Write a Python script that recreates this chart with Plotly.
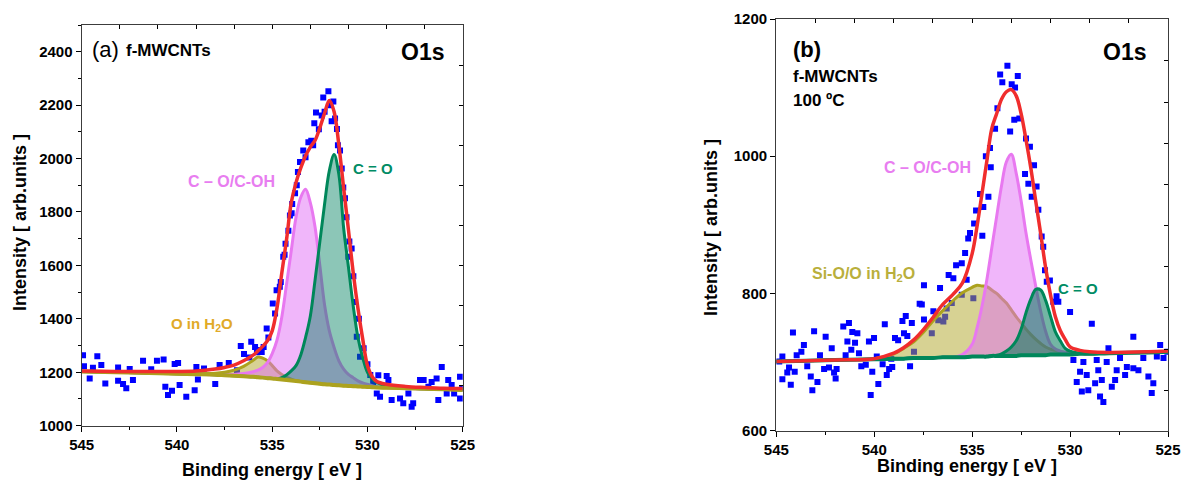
import plotly.graph_objects as go

# ---------------- Panel (a): f-MWCNTs ----------------
a_pts_x = [544.93, 544.88, 544.58, 544.41, 544.18, 543.97, 543.76, 543.09, 543.09, 542.83, 542.66, 542.48, 542.31,
           541.78, 541.35, 541.05, 540.70, 540.61, 540.47, 540.26, 540.12, 539.94, 539.86, 539.51, 539.07, 538.98,
           538.90, 538.58, 537.99, 537.76, 537.28, 536.85, 536.65, 536.48, 536.10, 535.90, 535.70, 535.55, 535.45,
           535.29, 534.97, 534.77, 534.55, 534.42, 534.30, 534.07, 533.98, 533.80, 533.71, 533.54, 533.37, 533.10,
           532.95, 532.79, 532.70, 532.40, 532.32, 532.05, 531.88, 531.79, 531.60, 531.44, 531.35, 531.27, 531.18,
           531.00, 530.83, 530.74, 530.65, 530.56, 530.39, 529.43, 528.99, 528.90, 529.70, 529.51, 529.34, 528.73,
           528.29, 528.12, 527.85, 527.68, 527.60, 527.24, 527.05, 526.80, 526.63, 526.37, 526.28, 526.10, 525.84,
           525.76, 525.58, 525.45, 525.14, 525.14, 525.03,
           536.20, 535.80, 535.20, 534.85, 534.60, 534.35, 534.15, 533.95, 533.65, 533.25, 532.85, 532.55, 532.25,
           531.95, 531.70, 531.55, 531.10, 530.95, 530.45, 530.20, 530.00, 529.85]
a_pts_y = [1264, 1223, 1177, 1217, 1260, 1227, 1158, 1218, 1168, 1156, 1140, 1212, 1171,
           1243, 1211, 1243, 1248, 1146, 1115, 1131, 1231, 1235, 1152, 1108, 1133, 1220,
           1173, 1214, 1156, 1227, 1235, 1208, 1298, 1268, 1314, 1295, 1283, 1276, 1295,
           1364, 1457, 1507, 1538, 1632, 1681, 1787, 1795, 1870, 1900, 1987, 2030, 2061,
           2067, 2132, 2172, 2161, 2229, 2252, 2140, 2214, 2111, 2030, 1963, 1892, 1851,
           1632, 1663, 1559, 1463, 1333, 1258, 1189, 1186, 1171, 1164, 1121, 1108, 1096,
           1102, 1084, 1121, 1071, 1084, 1171, 1171, 1146, 1164, 1177, 1096, 1220, 1121,
           1171, 1152, 1121, 1183, 1102, 1140,
           1255, 1275, 1330, 1420, 1520, 1640, 1730, 1830, 1950, 2005, 2050, 2110, 2175,
           2200, 2150, 2050, 1780, 1690, 1400, 1290, 1230, 1190]

a_fit_x = [545, 542, 539, 538, 537.5, 537, 536.5, 536, 535.75, 535.5, 535.25, 535, 534.75, 534.5, 534.25, 534,
           533.75, 533.5, 533.25, 533, 532.75, 532.5, 532.25, 532, 531.75, 531.5, 531.25, 531, 530.75, 530.5,
           530.25, 530, 529.75, 529.5, 529, 528, 527, 526, 525]
a_bg = [1203, 1198, 1193, 1191, 1189, 1187, 1185, 1183, 1181, 1180, 1178, 1177, 1175, 1173, 1171, 1169,
        1167, 1165, 1163, 1161, 1159, 1157, 1155, 1154, 1152, 1151, 1150, 1149, 1148, 1147,
        1146, 1145, 1144, 1143, 1142, 1140, 1138, 1136, 1134]
a_coh = [1203, 1198, 1193, 1191, 1190, 1192, 1195, 1202, 1208, 1218, 1236, 1270, 1320, 1405, 1528, 1655,
         1780, 1855, 1885, 1835, 1744, 1600, 1452, 1355, 1293, 1243, 1212, 1192, 1180, 1168,
         1160, 1155, 1150, 1146, 1143, 1140, 1138, 1136, 1134]
a_co = [1203, 1198, 1193, 1191, 1189, 1187, 1185, 1183, 1181, 1180, 1178, 1177, 1176, 1180, 1190, 1205,
        1225, 1265, 1330, 1410, 1545, 1688, 1830, 1955, 2015, 1940, 1740, 1595, 1450, 1330,
        1255, 1200, 1175, 1162, 1148, 1141, 1138, 1136, 1134]
a_h2o = [1203, 1198, 1194, 1196, 1200, 1208, 1222, 1245, 1257, 1253, 1243, 1225, 1205, 1192, 1182, 1174,
         1168, 1165, 1163, 1161, 1159, 1157, 1155, 1154, 1152, 1151, 1150, 1149, 1148, 1147,
         1146, 1145, 1144, 1143, 1142, 1140, 1138, 1136, 1134]
a_env = [1205, 1203, 1205, 1212, 1218, 1227, 1243, 1264, 1280, 1297, 1318, 1355, 1440, 1570, 1695, 1835,
         1910, 1965, 2010, 2043, 2068, 2115, 2170, 2217, 2175, 2050, 1890, 1735, 1575, 1440,
         1325, 1225, 1183, 1165, 1155, 1147, 1143, 1140, 1139]

# ---------------- Panel (b): f-MWCNTs 100 ºC ----------------
b_pts_x = [544.85, 544.69, 544.35, 544.44, 544.69, 544.26, 544.15, 544.06, 543.96, 543.72, 543.59, 543.42, 543.24,
           543.16, 543.07, 542.90, 542.77, 542.56, 542.48, 542.31, 542.17, 542.05, 541.97, 541.92, 541.58, 541.29,
           541.37, 541.12, 540.86, 541.17, 540.98, 541.46, 540.78, 540.66, 540.43, 540.27, 540.01, 540.10, 540.18,
           539.79, 539.57, 539.36, 539.24, 539.08, 539.46, 539.87, 538.94, 538.78, 538.56, 538.39, 538.48, 538.31,
           538.08, 538.17, 537.97, 539.13, 537.68,
           533.20, 533.57, 532.67, 533.46, 532.98, 532.81, 533.71, 532.85, 532.59, 533.06, 533.83, 532.25, 534.09,
           534.30, 534.05, 532.30, 532.13, 534.60, 534.17, 534.43, 534.80, 534.90, 534.48, 535.11, 535.20, 535.36,
           535.82, 535.53, 536.20, 535.96, 535.28, 537.46, 536.64, 535.53, 534.94, 536.04, 537.57, 536.98, 536.30,
           536.38, 536.73, 537.46, 536.47, 537.06,
           532.05, 531.96, 531.84, 531.71, 531.62, 531.45, 531.37, 531.28, 531.19, 531.03, 530.86, 530.69, 530.60,
           530.00, 528.89, 526.77, 525.40, 528.04, 529.83, 529.32, 528.64, 528.13, 527.45, 526.26, 525.57, 525.23,
           529.49, 528.56, 527.62, 527.10, 526.77, 526.51, 529.15, 528.38, 527.19, 527.70, 526.00, 529.66, 525.75,
           528.72, 527.87, 529.40, 529.07, 525.83, 528.47, 528.30, 525.03]
b_pts_y = [701, 708, 692, 685, 675, 667, 743, 686, 710, 715, 725, 694, 679,
           659, 745, 671, 710, 690, 737, 692, 720, 685, 676, 690, 752, 757,
           730, 744, 742, 718, 728, 710, 713, 694, 696, 730, 735, 686, 652,
           668, 697, 681, 690, 693, 755, 708, 735, 732, 760, 767, 742, 738,
           757, 694, 715, 705, 785,
           1132, 1119, 1117, 1108, 1105, 1100, 1070, 1053, 1055, 1036, 1040, 1026, 1012,
           1000, 984, 974, 960, 945, 941, 926, 921, 902, 884, 888, 880, 859,
           841, 844, 827, 822, 820, 812, 808, 798, 793, 786, 784, 774, 778,
           766, 761, 762, 759, 742,
           1014, 941, 987, 956, 922, 883, 868, 834, 817, 819, 788, 796, 788,
           773, 756, 737, 725, 720, 703, 700, 703, 700, 706, 706, 708, 706,
           686, 688, 688, 693, 691, 688, 681, 674, 681, 674, 679, 671, 669,
           669, 664, 657, 659, 655, 650, 642, 715]

b_fit_x = [545, 542, 540, 539, 538.5, 538, 537.5, 537, 536.5, 536, 535.5, 535, 534.75, 534.5, 534.25, 534,
           533.75, 533.5, 533.25, 533, 532.75, 532.5, 532.25, 532, 531.75, 531.5, 531.25, 531, 530.75, 530.5,
           530.25, 530, 529.5, 529, 528, 526, 525]
b_bg = [701, 703, 704, 705, 705, 706, 706, 706, 707, 707, 707, 708, 708, 708, 708, 709,
        709, 709, 709, 709, 709, 710, 710, 710, 710, 710, 710, 711, 711, 711,
        711, 711, 712, 712, 713, 714, 715]
b_coh = [701, 703, 704, 705, 705, 706, 706, 706, 707, 707, 711, 726, 750, 781, 820, 866,
         912, 957, 992, 1003, 975, 935, 888, 848, 810, 774, 745, 726, 719, 716,
         714, 712, 712, 712, 713, 714, 715]
b_sio = [701, 703, 705, 712, 720, 729, 743, 760, 775, 789, 801, 809, 812, 811, 810, 805,
         800, 793, 786, 776, 766, 757, 748, 740, 733, 727, 722, 719, 717, 715,
         714, 714, 713, 712, 713, 714, 715]
b_co = [701, 703, 704, 705, 705, 706, 706, 706, 707, 707, 707, 708, 708, 708, 708, 709,
        710, 712, 716, 722, 731, 748, 772, 792, 806, 805, 790, 767, 744, 731,
        720, 716, 713, 712, 713, 714, 715]
b_env = [701, 703, 705, 713, 721, 732, 747, 765, 784, 798, 815, 858, 898, 945, 993, 1040,
         1062, 1083, 1094, 1097, 1088, 1062, 1024, 982, 934, 887, 838, 798, 766, 746,
         733, 722, 717, 715, 714, 715, 716]

# tick labels / text
x_tick_vals = [545, 540, 535, 530, 525]
a_y_tick_vals = [1000, 1200, 1400, 1600, 1800, 2000, 2200, 2400]
b_y_tick_vals = [600, 800, 1000, 1200]

FONT = "Liberation Sans"
BLUE = "rgb(0,0,255)"
RED = "rgb(240,45,45)"
PINK_L = "rgb(232,120,240)"
PINK_F = "rgba(225,110,245,0.5)"
GREEN_L = "rgb(0,135,90)"
GREEN_F = "rgba(0,128,96,0.45)"
OLIVE_L = "rgb(172,162,30)"
OLIVE_F = "rgba(175,165,40,0.5)"

fig = go.Figure()


def add_panel(xa, ya, px, py, fx, bg, comps, env, base_color):
    fig.add_trace(go.Scatter(x=px, y=py, mode="markers", xaxis=xa, yaxis=ya,
                             marker=dict(symbol="square", size=6, color=BLUE, line=dict(width=0)),
                             showlegend=False, hoverinfo="skip"))
    for vals, lc, fc in comps:
        fig.add_trace(go.Scatter(x=fx, y=bg, mode="lines", xaxis=xa, yaxis=ya,
                                 line=dict(width=0, color="rgba(0,0,0,0)", shape="spline"),
                                 showlegend=False, hoverinfo="skip"))
        fig.add_trace(go.Scatter(x=fx, y=vals, mode="lines", xaxis=xa, yaxis=ya, fill="tonexty",
                                 fillcolor=fc, line=dict(width=3, color=lc, shape="spline"),
                                 showlegend=False, hoverinfo="skip"))
    fig.add_trace(go.Scatter(x=fx, y=bg, mode="lines", xaxis=xa, yaxis=ya,
                             line=dict(width=4, color=base_color, shape="spline"),
                             showlegend=False, hoverinfo="skip"))
    fig.add_trace(go.Scatter(x=fx, y=env, mode="lines", xaxis=xa, yaxis=ya,
                             line=dict(width=3.5, color=RED, shape="spline"),
                             showlegend=False, hoverinfo="skip"))


add_panel("x", "y", a_pts_x, a_pts_y, a_fit_x, a_bg,
          [(a_h2o, OLIVE_L, OLIVE_F), (a_coh, PINK_L, PINK_F), (a_co, GREEN_L, GREEN_F)],
          a_env, OLIVE_L)
add_panel("x2", "y2", b_pts_x, b_pts_y, b_fit_x, b_bg,
          [(b_sio, OLIVE_L, OLIVE_F), (b_coh, PINK_L, PINK_F), (b_co, GREEN_L, "rgba(0,120,90,0.55)")],
          b_env, GREEN_L)

# invisible traces for mirror tick axes
fig.add_trace(go.Scatter(x=[535], y=[1500], xaxis="x3", yaxis="y3", mode="markers",
                         marker=dict(opacity=0), showlegend=False, hoverinfo="skip"))
fig.add_trace(go.Scatter(x=[535], y=[900], xaxis="x4", yaxis="y4", mode="markers",
                         marker=dict(opacity=0), showlegend=False, hoverinfo="skip"))

W, H = 1182, 482


def fx_(px):
    return px / W


def fy_(py):
    return 1 - py / H


a_dom_x = [fx_(81.7), fx_(462.7)]
a_dom_y = [fy_(425.7), fy_(25)]
b_dom_x = [fx_(776.3), fx_(1168)]
b_dom_y = [fy_(430.7), fy_(19)]

tickfont = dict(family=FONT, size=15, color="black", weight="bold")
axcommon = dict(showline=True, linecolor="rgb(60,60,60)", linewidth=1.3, showgrid=False, zeroline=False,
                ticks="outside", ticklen=5, tickwidth=1.2, tickcolor="black", tickfont=tickfont,
                automargin=False)
mirrorcommon = dict(ticks="inside", ticklen=4, tickcolor="black", showticklabels=False, showline=True,
                    linecolor="rgb(60,60,60)", linewidth=1.3, showgrid=False, zeroline=False,
                    automargin=False)

fig.update_layout(
    template="none",
    width=W, height=H, margin=dict(l=0, r=0, t=0, b=0, pad=0),
    paper_bgcolor="white", plot_bgcolor="white", showlegend=False,
    xaxis=dict(domain=a_dom_x, anchor="y", range=[545, 525], tickvals=x_tick_vals,
               minor=dict(dtick=2.5, ticklen=3, ticks="outside", tickcolor="black"), **axcommon),
    yaxis=dict(domain=a_dom_y, anchor="x", range=[1000, 2500], tickvals=a_y_tick_vals,
               minor=dict(dtick=100, ticklen=3, ticks="outside", tickcolor="black"), **axcommon),
    xaxis2=dict(domain=b_dom_x, anchor="y2", range=[545, 525], tickvals=x_tick_vals,
                minor=dict(dtick=2.5, ticklen=3, ticks="outside", tickcolor="black"), **axcommon),
    yaxis2=dict(domain=b_dom_y, anchor="x2", range=[600, 1200], tickvals=b_y_tick_vals, **axcommon),
    xaxis3=dict(overlaying="x", anchor="y", side="top", range=[545, 525], tick0=525, dtick=2, **mirrorcommon),
    yaxis3=dict(overlaying="y", anchor="x", side="right", range=[1000, 2500], tick0=1150, dtick=150,
                **mirrorcommon),
    xaxis4=dict(overlaying="x2", anchor="y2", side="top", range=[545, 525], tick0=525, dtick=2,
                **mirrorcommon),
    yaxis4=dict(overlaying="y2", anchor="x2", side="right", range=[600, 1200], tick0=59, dtick=60,
                **mirrorcommon),
)


def ann(text, px, py, size, color="black", bold=True, xanchor="left", angle=0):
    fig.add_annotation(text=text, x=fx_(px), y=fy_(py), xref="paper", yref="paper",
                       xanchor=xanchor, yanchor="middle", showarrow=False, textangle=angle,
                       font=dict(family=FONT, size=size, color=color, weight="bold" if bold else "normal"))


# axis titles
ann("Binding energy [ eV ]", 272, 470, 18, xanchor="center")
ann("Binding energy [ eV ]", 967, 466, 18, xanchor="center")
ann("Intensity [ arb.units ]", 20, 223, 18, xanchor="center", angle=-90)
ann("Intensity [ arb.units ]", 711, 228, 18, xanchor="center", angle=-90)

# panel (a) texts
ann("(a)", 90, 50, 22, bold=False)
ann("f-MWCNTs", 124, 51, 17)
ann("O1s", 399, 52, 23)
ann("C – O/C-OH", 231, 181, 16, color="rgb(232,125,240)", xanchor="center")
ann("C = O", 373, 168, 15, color="rgb(0,140,100)", xanchor="center")
ann("O in H<sub>2</sub>O", 202, 324, 15, color="rgb(225,170,40)", xanchor="center")

# panel (b) texts
ann("(b)", 791, 50, 22)
ann("f-MWCNTs", 791, 76, 17)
ann("100 ºC", 791, 100, 17)
ann("O1s", 1101, 52, 23)
ann("C – O/C-OH", 928, 167, 16, color="rgb(232,125,240)", xanchor="center")
ann("Si-O/O in H<sub>2</sub>O", 863, 274, 16, color="rgb(185,175,60)", xanchor="center")
ann("C = O", 1078, 288, 15, color="rgb(0,140,100)", xanchor="center")

fig.write_html(
    "out.html",
    config={"displayModeBar": False},
    post_script="document.body.style.margin='0';document.body.style.overflow='hidden';"
                "document.documentElement.style.overflow='hidden';",
)
